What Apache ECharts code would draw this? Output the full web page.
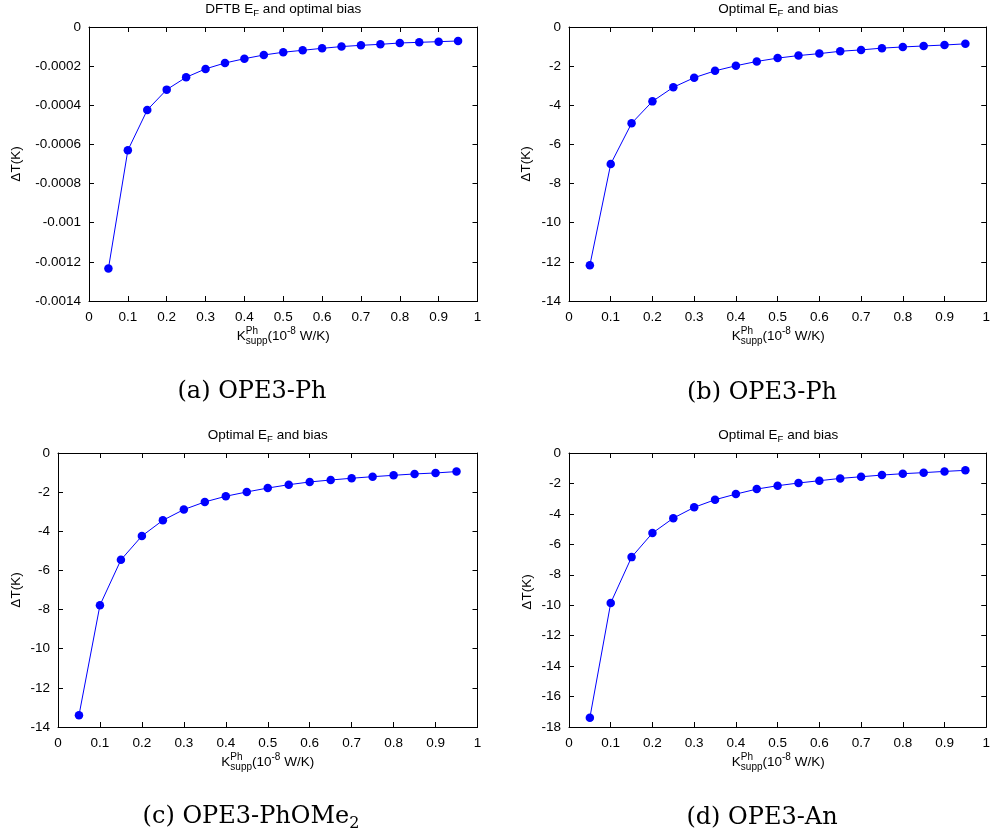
<!DOCTYPE html>
<html>
<head>
<meta charset="utf-8">
<script src="https://cdn.jsdelivr.net/npm/echarts@6/dist/echarts.min.js"></script>
<style>
html,body{margin:0;padding:0;background:#fff;}
#chart{width:993px;height:836px;}
</style>
</head>
<body>
<div id="chart"></div>
<script>
// ---------- data ----------
const xValues = [0.05, 0.10, 0.15, 0.20, 0.25, 0.30, 0.35, 0.40, 0.45, 0.50, 0.55, 0.60, 0.65, 0.70, 0.75, 0.80, 0.85, 0.90, 0.95];
const dtA = [-0.001234, -0.00063, -0.000424, -0.00032, -0.000257, -0.000214, -0.000184, -0.000162, -0.000143, -0.000129, -0.000119, -0.000109, -0.0001, -0.0000936, -0.0000885, -0.0000817, -0.0000783, -0.0000749, -0.0000715];
const dtB = [-12.17, -7.0, -4.92, -3.80, -3.08, -2.59, -2.24, -1.98, -1.76, -1.59, -1.46, -1.36, -1.24, -1.17, -1.08, -1.02, -0.97, -0.92, -0.86];
const dtC = [-13.4, -7.78, -5.46, -4.24, -3.44, -2.89, -2.50, -2.21, -1.99, -1.79, -1.62, -1.48, -1.38, -1.29, -1.21, -1.14, -1.07, -1.02, -0.95];
const dtD = [-17.39, -9.85, -6.84, -5.26, -4.28, -3.57, -3.07, -2.70, -2.37, -2.15, -1.97, -1.82, -1.67, -1.56, -1.45, -1.36, -1.29, -1.21, -1.14];
const yMins = [-0.0014, -14, -14, -18];
const yIntervals = [0.0002, 2, 2, 2];
const xMin = 0, xMax = 1, xInterval = 0.1;
const panelTitles = ['{m|DFTB E}{s|F}{m| and optimal bias}', '{m|Optimal E}{s|F}{m| and bias}', '{m|Optimal E}{s|F}{m| and bias}', '{m|Optimal E}{s|F}{m| and bias}'];
const captions = ['{m|(a) OPE3-Ph}', '{m|(b) OPE3-Ph}', '{m|(c) OPE3-PhOMe}{s|2}', '{m|(d) OPE3-An}'];
const xAxisName = '{m|K}{ph|Ph}{s|supp}{m|(10}{p|-8}{m| W/K)}';
const yAxisName = 'ΔT(K)';
const seriesData = [dtA, dtB, dtC, dtD];

// ---------- layout ----------
const SANS = 'Liberation Sans, Arial, Helvetica, sans-serif';
const SERIF = 'DejaVu Serif, serif';
const FS = 13.5;
const grids = [
  {left: 89, top: 27, width: 388.5, height: 274},
  {left: 569, top: 27, width: 418.5, height: 274},
  {left: 58, top: 453, width: 419.5, height: 274},
  {left: 569, top: 453, width: 418.5, height: 274}
];
const yNamePos = [[16, 164], [526, 164], [16, 590], [527, 592]];
const captionPos = [[252, 392], [762, 393], [251, 817], [762, 818]];

const xAxes = [], yAxes = [], series = [], graphics = [];
const tickCommon = {show: true, inside: true, length: 5, lineStyle: {color: '#000', width: 1}};
const lineCommon = {show: true, onZero: false, lineStyle: {color: '#000', width: 1}};

grids.forEach((g, i) => {
  xAxes.push({
    type: 'value', gridIndex: i, position: 'bottom', min: xMin, max: xMax, interval: xInterval,
    axisLine: lineCommon, axisTick: tickCommon, splitLine: {show: false},
    axisLabel: {color: '#000', fontSize: FS, fontFamily: SANS, margin: 9}
  });
  xAxes.push({
    type: 'value', gridIndex: i, position: 'top', min: xMin, max: xMax, interval: xInterval,
    axisLine: lineCommon, axisTick: tickCommon, splitLine: {show: false},
    axisLabel: {show: false}
  });
  yAxes.push({
    type: 'value', gridIndex: i, position: 'left', min: yMins[i], max: 0, interval: yIntervals[i],
    axisLine: lineCommon, axisTick: tickCommon, splitLine: {show: false},
    axisLabel: {color: '#000', fontSize: FS, fontFamily: SANS, margin: 8}
  });
  yAxes.push({
    type: 'value', gridIndex: i, position: 'right', min: yMins[i], max: 0, interval: yIntervals[i],
    axisLine: lineCommon, axisTick: tickCommon, splitLine: {show: false},
    axisLabel: {show: false}
  });
  series.push({
    type: 'line', xAxisIndex: 2 * i, yAxisIndex: 2 * i,
    data: xValues.map((x, k) => [x, seriesData[i][k]]),
    symbol: 'circle', symbolSize: 8.5, showSymbol: true,
    lineStyle: {color: '#0000ff', width: 1},
    itemStyle: {color: '#0000ff'},
    animation: false
  });
  const cx = g.left + g.width / 2;
  // title
  graphics.push({
    type: 'text', x: cx, y: g.top - 18,
    style: {
      text: panelTitles[i], x: 0, y: 0, align: 'center', verticalAlign: 'middle',
      font: FS + 'px ' + SANS, fill: '#000',
      rich: {
        m: {fontSize: FS, fontFamily: SANS, align: 'left', lineHeight: 18, verticalAlign: 'middle'},
        s: {fontSize: 9.5, fontFamily: SANS, align: 'left', verticalAlign: 'bottom', lineHeight: 10}
      }
    }
  });
  // x axis name
  graphics.push({
    type: 'text', x: cx, y: g.top + g.height + 35,
    style: {
      text: xAxisName, x: 0, y: 0, align: 'center', verticalAlign: 'middle', fill: '#000',
      font: FS + 'px ' + SANS,
      rich: {
        m: {fontSize: FS, fontFamily: SANS, align: 'left', lineHeight: 20, verticalAlign: 'middle'},
        ph: {fontSize: 10, fontFamily: SANS, align: 'left', width: 0, lineHeight: 10, verticalAlign: 'top'},
        s: {fontSize: 10, fontFamily: SANS, align: 'left', lineHeight: 10, verticalAlign: 'bottom'},
        p: {fontSize: 10, fontFamily: SANS, align: 'left', lineHeight: 10, verticalAlign: 'top'}
      }
    }
  });
  // y axis name
  graphics.push({
    type: 'text', x: yNamePos[i][0], y: yNamePos[i][1], rotation: Math.PI / 2,
    style: {text: yAxisName, x: 0, y: 0, align: 'center', verticalAlign: 'middle', font: FS + 'px ' + SANS, fill: '#000'}
  });
  // caption
  graphics.push({
    type: 'text', x: captionPos[i][0], y: captionPos[i][1],
    style: {
      text: captions[i], x: 0, y: 0, align: 'center', verticalAlign: 'middle', fill: '#000',
      font: '24px ' + SERIF,
      rich: {
        m: {fontSize: 24, fontFamily: SERIF, align: 'left', lineHeight: 30, verticalAlign: 'middle'},
        s: {fontSize: 16, fontFamily: SERIF, align: 'left', verticalAlign: 'bottom', lineHeight: 20}
      }
    }
  });
});

const chart = echarts.init(document.getElementById('chart'), null, {renderer: 'canvas'});
chart.setOption({
  animation: false,
  backgroundColor: '#fff',
  grid: grids.map(g => Object.assign({containLabel: false}, g)),
  xAxis: xAxes,
  yAxis: yAxes,
  series: series,
  graphic: graphics
});
</script>
</body>
</html>
